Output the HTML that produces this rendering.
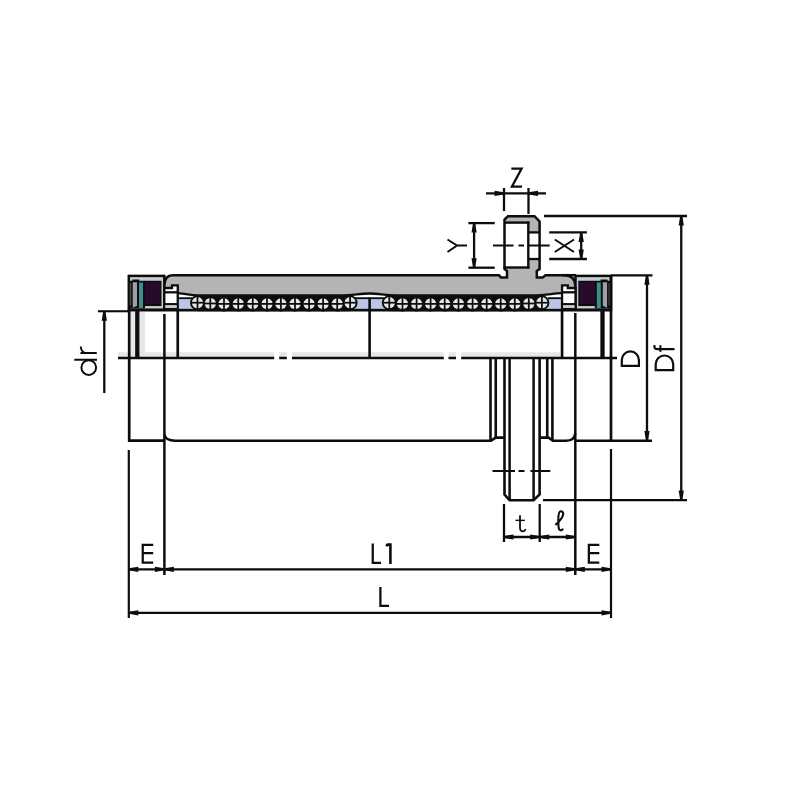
<!DOCTYPE html><html><head><meta charset="utf-8"><style>html,body{margin:0;padding:0;background:#fff;}svg{display:block;}</style></head><body><svg width="800" height="800" viewBox="0 0 800 800">
<rect width="800" height="800" fill="#fff"/>
<path d="M164.3,285 Q164.8,275.2 172.5,275.2 L499,275.2 L501,277.6 L507,277.6 L507,271 L504.5,269 L504.5,219.5 L508,216.2 L534.5,216.2 L539.6,221.5 L539.6,269 L536.8,271 L536.8,277.6 L542.6,277.6 L545.5,275.2 L564.5,275.2 Q575.3,275.5 575.3,286 L575.3,300 L164.3,300 Z" fill="#b4b4b6" stroke="none"/>
<rect x="504.5" y="222.6" width="23.8" height="44.7" fill="#fff"/>
<rect x="528.3" y="232.4" width="11.3" height="26.6" fill="#fff"/>
<path d="M164.3,285 Q164.8,275.2 172.5,275.2 L499,275.2 L501,277.6 L507,277.6 L507,271 L504.5,269 L504.5,219.5 L508,216.2 L534.5,216.2 L539.6,221.5 L539.6,269 L536.8,271 L536.8,277.6 L542.6,277.6 L545.5,275.2 L564.5,275.2 Q575.3,275.5 575.3,286" fill="none" stroke="#0d0d0d" stroke-width="2.5" stroke-linejoin="miter"/>
<line x1="562" y1="275.2" x2="576" y2="275.2" stroke="#0d0d0d" stroke-width="2.5" stroke-linecap="butt"/>
<line x1="504.5" y1="222.6" x2="529.5" y2="222.6" stroke="#0d0d0d" stroke-width="2.4" stroke-linecap="butt"/>
<line x1="528.3" y1="221.5" x2="528.3" y2="268.5" stroke="#0d0d0d" stroke-width="2.4" stroke-linecap="butt"/>
<line x1="503.5" y1="267.5" x2="529.5" y2="267.5" stroke="#0d0d0d" stroke-width="2.4" stroke-linecap="butt"/>
<line x1="528.3" y1="232.4" x2="539.6" y2="232.4" stroke="#0d0d0d" stroke-width="2.3" stroke-linecap="butt"/>
<line x1="528.3" y1="259" x2="539.6" y2="259" stroke="#0d0d0d" stroke-width="2.3" stroke-linecap="butt"/>
<path d="M177.7,293.2 C186,293.6 190,295.3 197,295.4 L340,295.4 C352,295.4 360,293.6 369.6,293.5 C379,293.6 386,295.4 398,295.4 L533,295.4 C545,295.3 553,293.6 561.9,293.2 L561.9,311 L177.7,311 Z" fill="#fff"/>
<rect x="197.5" y="295.6" width="152.6" height="15.6" fill="#0d0d0d"/>
<rect x="389.3" y="295.6" width="152.6" height="15.6" fill="#0d0d0d"/>
<rect x="178.8" y="299.2" width="13.2" height="9.4" fill="#bcc6e4"/>
<line x1="177.7" y1="298.2" x2="192" y2="298.2" stroke="#0d0d0d" stroke-width="1.9" stroke-linecap="butt"/>
<rect x="355" y="299.2" width="29" height="9.4" fill="#bcc6e4"/>
<line x1="355" y1="298.2" x2="384" y2="298.2" stroke="#0d0d0d" stroke-width="1.9" stroke-linecap="butt"/>
<rect x="548" y="299.2" width="13" height="9.4" fill="#bcc6e4"/>
<line x1="548" y1="298.2" x2="562" y2="298.2" stroke="#0d0d0d" stroke-width="1.9" stroke-linecap="butt"/>
<circle cx="197.5" cy="302.7" r="7.5" fill="#0d0d0d"/>
<circle cx="210.3" cy="303.5" r="7.5" fill="#0d0d0d"/>
<circle cx="224" cy="303.9" r="7.5" fill="#0d0d0d"/>
<circle cx="238.25" cy="303.9" r="7.5" fill="#0d0d0d"/>
<circle cx="252.75" cy="303.9" r="7.5" fill="#0d0d0d"/>
<circle cx="267" cy="303.9" r="7.5" fill="#0d0d0d"/>
<circle cx="280.9" cy="303.9" r="7.5" fill="#0d0d0d"/>
<circle cx="295" cy="303.9" r="7.5" fill="#0d0d0d"/>
<circle cx="309.1" cy="303.9" r="7.5" fill="#0d0d0d"/>
<circle cx="323.1" cy="303.9" r="7.5" fill="#0d0d0d"/>
<circle cx="337.2" cy="303.9" r="7.5" fill="#0d0d0d"/>
<circle cx="350.1" cy="302.7" r="7.5" fill="#0d0d0d"/>
<circle cx="389.3" cy="302.7" r="7.5" fill="#0d0d0d"/>
<circle cx="402.5" cy="303.9" r="7.5" fill="#0d0d0d"/>
<circle cx="416.6" cy="303.9" r="7.5" fill="#0d0d0d"/>
<circle cx="430.6" cy="303.9" r="7.5" fill="#0d0d0d"/>
<circle cx="444.7" cy="303.9" r="7.5" fill="#0d0d0d"/>
<circle cx="458.5" cy="303.9" r="7.5" fill="#0d0d0d"/>
<circle cx="472.6" cy="303.9" r="7.5" fill="#0d0d0d"/>
<circle cx="486.7" cy="303.9" r="7.5" fill="#0d0d0d"/>
<circle cx="500.7" cy="303.9" r="7.5" fill="#0d0d0d"/>
<circle cx="514.8" cy="303.9" r="7.5" fill="#0d0d0d"/>
<circle cx="528.8" cy="303.5" r="7.5" fill="#0d0d0d"/>
<circle cx="541.9" cy="302.7" r="7.5" fill="#0d0d0d"/>
<circle cx="197.5" cy="302.7" r="5.6" fill="#e6e6e6"/>
<line x1="191.5" y1="302.7" x2="203.5" y2="302.7" stroke="#0d0d0d" stroke-width="1.75" stroke-linecap="butt"/>
<line x1="197.5" y1="296.7" x2="197.5" y2="308.7" stroke="#0d0d0d" stroke-width="1.75" stroke-linecap="butt"/>
<circle cx="210.3" cy="303.5" r="5.6" fill="#e6e6e6"/>
<line x1="204.3" y1="303.5" x2="216.3" y2="303.5" stroke="#0d0d0d" stroke-width="1.75" stroke-linecap="butt"/>
<line x1="210.3" y1="297.5" x2="210.3" y2="309.5" stroke="#0d0d0d" stroke-width="1.75" stroke-linecap="butt"/>
<circle cx="224" cy="303.9" r="5.6" fill="#e6e6e6"/>
<line x1="218" y1="303.9" x2="230" y2="303.9" stroke="#0d0d0d" stroke-width="1.75" stroke-linecap="butt"/>
<line x1="224" y1="297.9" x2="224" y2="309.9" stroke="#0d0d0d" stroke-width="1.75" stroke-linecap="butt"/>
<circle cx="238.25" cy="303.9" r="5.6" fill="#e6e6e6"/>
<line x1="232.25" y1="303.9" x2="244.25" y2="303.9" stroke="#0d0d0d" stroke-width="1.75" stroke-linecap="butt"/>
<line x1="238.25" y1="297.9" x2="238.25" y2="309.9" stroke="#0d0d0d" stroke-width="1.75" stroke-linecap="butt"/>
<circle cx="252.75" cy="303.9" r="5.6" fill="#e6e6e6"/>
<line x1="246.75" y1="303.9" x2="258.75" y2="303.9" stroke="#0d0d0d" stroke-width="1.75" stroke-linecap="butt"/>
<line x1="252.75" y1="297.9" x2="252.75" y2="309.9" stroke="#0d0d0d" stroke-width="1.75" stroke-linecap="butt"/>
<circle cx="267" cy="303.9" r="5.6" fill="#e6e6e6"/>
<line x1="261" y1="303.9" x2="273" y2="303.9" stroke="#0d0d0d" stroke-width="1.75" stroke-linecap="butt"/>
<line x1="267" y1="297.9" x2="267" y2="309.9" stroke="#0d0d0d" stroke-width="1.75" stroke-linecap="butt"/>
<circle cx="280.9" cy="303.9" r="5.6" fill="#e6e6e6"/>
<line x1="274.9" y1="303.9" x2="286.9" y2="303.9" stroke="#0d0d0d" stroke-width="1.75" stroke-linecap="butt"/>
<line x1="280.9" y1="297.9" x2="280.9" y2="309.9" stroke="#0d0d0d" stroke-width="1.75" stroke-linecap="butt"/>
<circle cx="295" cy="303.9" r="5.6" fill="#e6e6e6"/>
<line x1="289" y1="303.9" x2="301" y2="303.9" stroke="#0d0d0d" stroke-width="1.75" stroke-linecap="butt"/>
<line x1="295" y1="297.9" x2="295" y2="309.9" stroke="#0d0d0d" stroke-width="1.75" stroke-linecap="butt"/>
<circle cx="309.1" cy="303.9" r="5.6" fill="#e6e6e6"/>
<line x1="303.1" y1="303.9" x2="315.1" y2="303.9" stroke="#0d0d0d" stroke-width="1.75" stroke-linecap="butt"/>
<line x1="309.1" y1="297.9" x2="309.1" y2="309.9" stroke="#0d0d0d" stroke-width="1.75" stroke-linecap="butt"/>
<circle cx="323.1" cy="303.9" r="5.6" fill="#e6e6e6"/>
<line x1="317.1" y1="303.9" x2="329.1" y2="303.9" stroke="#0d0d0d" stroke-width="1.75" stroke-linecap="butt"/>
<line x1="323.1" y1="297.9" x2="323.1" y2="309.9" stroke="#0d0d0d" stroke-width="1.75" stroke-linecap="butt"/>
<circle cx="337.2" cy="303.9" r="5.6" fill="#e6e6e6"/>
<line x1="331.2" y1="303.9" x2="343.2" y2="303.9" stroke="#0d0d0d" stroke-width="1.75" stroke-linecap="butt"/>
<line x1="337.2" y1="297.9" x2="337.2" y2="309.9" stroke="#0d0d0d" stroke-width="1.75" stroke-linecap="butt"/>
<circle cx="350.1" cy="302.7" r="5.6" fill="#e6e6e6"/>
<line x1="344.1" y1="302.7" x2="356.1" y2="302.7" stroke="#0d0d0d" stroke-width="1.75" stroke-linecap="butt"/>
<line x1="350.1" y1="296.7" x2="350.1" y2="308.7" stroke="#0d0d0d" stroke-width="1.75" stroke-linecap="butt"/>
<circle cx="389.3" cy="302.7" r="5.6" fill="#e6e6e6"/>
<line x1="383.3" y1="302.7" x2="395.3" y2="302.7" stroke="#0d0d0d" stroke-width="1.75" stroke-linecap="butt"/>
<line x1="389.3" y1="296.7" x2="389.3" y2="308.7" stroke="#0d0d0d" stroke-width="1.75" stroke-linecap="butt"/>
<circle cx="402.5" cy="303.9" r="5.6" fill="#e6e6e6"/>
<line x1="396.5" y1="303.9" x2="408.5" y2="303.9" stroke="#0d0d0d" stroke-width="1.75" stroke-linecap="butt"/>
<line x1="402.5" y1="297.9" x2="402.5" y2="309.9" stroke="#0d0d0d" stroke-width="1.75" stroke-linecap="butt"/>
<circle cx="416.6" cy="303.9" r="5.6" fill="#e6e6e6"/>
<line x1="410.6" y1="303.9" x2="422.6" y2="303.9" stroke="#0d0d0d" stroke-width="1.75" stroke-linecap="butt"/>
<line x1="416.6" y1="297.9" x2="416.6" y2="309.9" stroke="#0d0d0d" stroke-width="1.75" stroke-linecap="butt"/>
<circle cx="430.6" cy="303.9" r="5.6" fill="#e6e6e6"/>
<line x1="424.6" y1="303.9" x2="436.6" y2="303.9" stroke="#0d0d0d" stroke-width="1.75" stroke-linecap="butt"/>
<line x1="430.6" y1="297.9" x2="430.6" y2="309.9" stroke="#0d0d0d" stroke-width="1.75" stroke-linecap="butt"/>
<circle cx="444.7" cy="303.9" r="5.6" fill="#e6e6e6"/>
<line x1="438.7" y1="303.9" x2="450.7" y2="303.9" stroke="#0d0d0d" stroke-width="1.75" stroke-linecap="butt"/>
<line x1="444.7" y1="297.9" x2="444.7" y2="309.9" stroke="#0d0d0d" stroke-width="1.75" stroke-linecap="butt"/>
<circle cx="458.5" cy="303.9" r="5.6" fill="#e6e6e6"/>
<line x1="452.5" y1="303.9" x2="464.5" y2="303.9" stroke="#0d0d0d" stroke-width="1.75" stroke-linecap="butt"/>
<line x1="458.5" y1="297.9" x2="458.5" y2="309.9" stroke="#0d0d0d" stroke-width="1.75" stroke-linecap="butt"/>
<circle cx="472.6" cy="303.9" r="5.6" fill="#e6e6e6"/>
<line x1="466.6" y1="303.9" x2="478.6" y2="303.9" stroke="#0d0d0d" stroke-width="1.75" stroke-linecap="butt"/>
<line x1="472.6" y1="297.9" x2="472.6" y2="309.9" stroke="#0d0d0d" stroke-width="1.75" stroke-linecap="butt"/>
<circle cx="486.7" cy="303.9" r="5.6" fill="#e6e6e6"/>
<line x1="480.7" y1="303.9" x2="492.7" y2="303.9" stroke="#0d0d0d" stroke-width="1.75" stroke-linecap="butt"/>
<line x1="486.7" y1="297.9" x2="486.7" y2="309.9" stroke="#0d0d0d" stroke-width="1.75" stroke-linecap="butt"/>
<circle cx="500.7" cy="303.9" r="5.6" fill="#e6e6e6"/>
<line x1="494.7" y1="303.9" x2="506.7" y2="303.9" stroke="#0d0d0d" stroke-width="1.75" stroke-linecap="butt"/>
<line x1="500.7" y1="297.9" x2="500.7" y2="309.9" stroke="#0d0d0d" stroke-width="1.75" stroke-linecap="butt"/>
<circle cx="514.8" cy="303.9" r="5.6" fill="#e6e6e6"/>
<line x1="508.8" y1="303.9" x2="520.8" y2="303.9" stroke="#0d0d0d" stroke-width="1.75" stroke-linecap="butt"/>
<line x1="514.8" y1="297.9" x2="514.8" y2="309.9" stroke="#0d0d0d" stroke-width="1.75" stroke-linecap="butt"/>
<circle cx="528.8" cy="303.5" r="5.6" fill="#e6e6e6"/>
<line x1="522.8" y1="303.5" x2="534.8" y2="303.5" stroke="#0d0d0d" stroke-width="1.75" stroke-linecap="butt"/>
<line x1="528.8" y1="297.5" x2="528.8" y2="309.5" stroke="#0d0d0d" stroke-width="1.75" stroke-linecap="butt"/>
<circle cx="541.9" cy="302.7" r="5.6" fill="#e6e6e6"/>
<line x1="535.9" y1="302.7" x2="547.9" y2="302.7" stroke="#0d0d0d" stroke-width="1.75" stroke-linecap="butt"/>
<line x1="541.9" y1="296.7" x2="541.9" y2="308.7" stroke="#0d0d0d" stroke-width="1.75" stroke-linecap="butt"/>
<path d="M177.7,293.2 C186,293.6 190,295.3 197,295.4 L340,295.4 C352,295.4 360,293.6 369.6,293.5 C379,293.6 386,295.4 398,295.4 L533,295.4 C545,295.3 553,293.6 561.9,293.2" fill="none" stroke="#0d0d0d" stroke-width="2.3" stroke-linejoin="miter"/>
<line x1="128" y1="310.1" x2="611" y2="310.1" stroke="#0d0d0d" stroke-width="2.6" stroke-linecap="butt"/>
<g><rect x="128.8" y="275.9" width="35.5" height="33.8" fill="#c8ccd6" stroke="#0d0d0d" stroke-width="2.5"/><rect x="129.5" y="280.75" width="32" height="25.3" fill="#0d0d0d"/><rect x="129.5" y="306" width="15.5" height="2.5" fill="#0d0d0d"/><rect x="132.25" y="279.5" width="7" height="2" fill="#0d0d0d"/><rect x="129.6" y="283" width="1.7" height="22.5" fill="#4a4545"/><path d="M132.75,282.3 L137,282.3 L137,305.8 L132.75,307.8 Z" fill="#a0a0a4"/><rect x="139" y="282.5" width="4" height="25.5" fill="#3a8e8c"/><rect x="145" y="282.3" width="15.3" height="21.8" fill="#280a2b"/><path d="M164.3,288 L172,288 L172,285.4 L177.75,285.4 L177.75,309 L164.3,309 Z" fill="#fff" stroke="#0d0d0d" stroke-width="2.3"/><line x1="164.3" y1="292.3" x2="177.75" y2="292.3" stroke="#0d0d0d" stroke-width="2.3"/><line x1="164.3" y1="304.2" x2="177.75" y2="304.2" stroke="#0d0d0d" stroke-width="2.3"/><rect x="165.4" y="305.4" width="11.2" height="2.4" fill="#c8ccd6"/></g>
<g transform="translate(739.8,0) scale(-1,1)"><rect x="128.8" y="275.9" width="35.5" height="33.8" fill="#c8ccd6" stroke="#0d0d0d" stroke-width="2.5"/><rect x="129.5" y="280.75" width="32" height="25.3" fill="#0d0d0d"/><rect x="129.5" y="306" width="15.5" height="2.5" fill="#0d0d0d"/><rect x="132.25" y="279.5" width="7" height="2" fill="#0d0d0d"/><rect x="129.6" y="283" width="1.7" height="22.5" fill="#4a4545"/><path d="M132.75,282.3 L137,282.3 L137,305.8 L132.75,307.8 Z" fill="#a0a0a4"/><rect x="139" y="282.5" width="4" height="25.5" fill="#3a8e8c"/><rect x="145" y="282.3" width="15.3" height="21.8" fill="#280a2b"/><path d="M164.3,288 L172,288 L172,285.4 L177.75,285.4 L177.75,309 L164.3,309 Z" fill="#fff" stroke="#0d0d0d" stroke-width="2.3"/><line x1="164.3" y1="292.3" x2="177.75" y2="292.3" stroke="#0d0d0d" stroke-width="2.3"/><line x1="164.3" y1="304.2" x2="177.75" y2="304.2" stroke="#0d0d0d" stroke-width="2.3"/><rect x="165.4" y="305.4" width="11.2" height="2.4" fill="#c8ccd6"/></g>
<rect x="118" y="352.3" width="156.2" height="4.7" fill="#e5e6e8"/>
<rect x="279.2" y="352.3" width="7.6" height="4.7" fill="#e5e6e8"/>
<rect x="292" y="352.3" width="151.8" height="4.7" fill="#e5e6e8"/>
<rect x="448.5" y="352.3" width="7.5" height="4.7" fill="#e5e6e8"/>
<rect x="461.2" y="352.3" width="98.8" height="4.7" fill="#e5e6e8"/>
<rect x="130.8" y="312" width="3.9" height="45" fill="#e5e6e8"/>
<rect x="139.8" y="312" width="5.1" height="45" fill="#e5e6e8"/>
<line x1="129.2" y1="309" x2="129.2" y2="441.8" stroke="#0d0d0d" stroke-width="2.7" stroke-linecap="butt"/>
<line x1="137.3" y1="309" x2="137.3" y2="358" stroke="#0d0d0d" stroke-width="4.3" stroke-linecap="butt"/>
<line x1="164.4" y1="314" x2="164.4" y2="575" stroke="#0d0d0d" stroke-width="2.5" stroke-linecap="butt"/>
<line x1="177.75" y1="309" x2="177.75" y2="358" stroke="#0d0d0d" stroke-width="2.7" stroke-linecap="butt"/>
<line x1="369.6" y1="297.5" x2="369.6" y2="358" stroke="#0d0d0d" stroke-width="2.6" stroke-linecap="butt"/>
<line x1="562.05" y1="309" x2="562.05" y2="358" stroke="#0d0d0d" stroke-width="2.7" stroke-linecap="butt"/>
<line x1="575.3" y1="313" x2="575.3" y2="575" stroke="#0d0d0d" stroke-width="2.5" stroke-linecap="butt"/>
<line x1="602.5" y1="309" x2="602.5" y2="358" stroke="#0d0d0d" stroke-width="4.3" stroke-linecap="butt"/>
<line x1="611" y1="275" x2="611" y2="441.8" stroke="#0d0d0d" stroke-width="2.7" stroke-linecap="butt"/>
<line x1="611" y1="449" x2="611" y2="618" stroke="#0d0d0d" stroke-width="2.2" stroke-linecap="butt"/>
<line x1="128.8" y1="450" x2="128.8" y2="618" stroke="#0d0d0d" stroke-width="2.2" stroke-linecap="butt"/>
<line x1="118" y1="358" x2="274.2" y2="358" stroke="#0d0d0d" stroke-width="2.5" stroke-linecap="butt"/>
<line x1="279.2" y1="358" x2="286.8" y2="358" stroke="#0d0d0d" stroke-width="2.5" stroke-linecap="butt"/>
<line x1="292" y1="358" x2="443.8" y2="358" stroke="#0d0d0d" stroke-width="2.5" stroke-linecap="butt"/>
<line x1="448.5" y1="358" x2="456" y2="358" stroke="#0d0d0d" stroke-width="2.5" stroke-linecap="butt"/>
<line x1="461.2" y1="358" x2="617" y2="358" stroke="#0d0d0d" stroke-width="2.5" stroke-linecap="butt"/>
<line x1="128" y1="440.6" x2="164.4" y2="440.6" stroke="#0d0d0d" stroke-width="2.6" stroke-linecap="butt"/>
<path d="M164.4,434.8 Q165.8,440.7 175,440.7 L491,440.7 L495.7,437.6 L504.5,437.6" fill="none" stroke="#0d0d0d" stroke-width="2.6" stroke-linejoin="miter"/>
<path d="M539.6,437.6 L548.5,437.6 L553,440.8 L566,440.8 Q574.6,440.6 575.2,433.5" fill="none" stroke="#0d0d0d" stroke-width="2.6" stroke-linejoin="miter"/>
<line x1="575" y1="440.8" x2="652" y2="440.8" stroke="#0d0d0d" stroke-width="2.6" stroke-linecap="butt"/>
<line x1="490.5" y1="358" x2="490.5" y2="440.6" stroke="#0d0d0d" stroke-width="2.6" stroke-linecap="butt"/>
<line x1="495.75" y1="358" x2="495.75" y2="437.6" stroke="#0d0d0d" stroke-width="2.6" stroke-linecap="butt"/>
<line x1="547.25" y1="358" x2="547.25" y2="437.6" stroke="#0d0d0d" stroke-width="2.6" stroke-linecap="butt"/>
<line x1="552.4" y1="358" x2="552.4" y2="440.6" stroke="#0d0d0d" stroke-width="2.6" stroke-linecap="butt"/>
<path d="M504.5,358 L504.5,494.5 L509.6,500.2 L533.6,500.2 L539.6,494.5 L539.6,358" fill="none" stroke="#0d0d0d" stroke-width="2.6" stroke-linejoin="miter"/>
<line x1="509.6" y1="358" x2="509.6" y2="500" stroke="#0d0d0d" stroke-width="2.5" stroke-linecap="butt"/>
<line x1="533.6" y1="358" x2="533.6" y2="500" stroke="#0d0d0d" stroke-width="2.5" stroke-linecap="butt"/>
<line x1="492.5" y1="471" x2="515" y2="471" stroke="#0d0d0d" stroke-width="2.0" stroke-linecap="butt"/>
<line x1="518.5" y1="471" x2="524.5" y2="471" stroke="#0d0d0d" stroke-width="2.0" stroke-linecap="butt"/>
<line x1="530.5" y1="471" x2="550.3" y2="471" stroke="#0d0d0d" stroke-width="2.0" stroke-linecap="butt"/>
<line x1="486" y1="193.4" x2="546" y2="193.4" stroke="#0d0d0d" stroke-width="2.3" stroke-linecap="butt"/>
<polygon points="504,192.35 494.5,190.8 494.5,196 504,194.45" fill="#0d0d0d"/>
<polygon points="528.5,192.35 538,190.8 538,196 528.5,194.45" fill="#0d0d0d"/>
<line x1="504" y1="188" x2="504" y2="211" stroke="#0d0d0d" stroke-width="2.3" stroke-linecap="butt"/>
<line x1="528.5" y1="188" x2="528.5" y2="214" stroke="#0d0d0d" stroke-width="2.3" stroke-linecap="butt"/>
<line x1="468.4" y1="223.1" x2="494.7" y2="223.1" stroke="#0d0d0d" stroke-width="2.3" stroke-linecap="butt"/>
<line x1="468.4" y1="267.7" x2="494.7" y2="267.7" stroke="#0d0d0d" stroke-width="2.3" stroke-linecap="butt"/>
<line x1="474.1" y1="223.1" x2="474.1" y2="267.7" stroke="#0d0d0d" stroke-width="2.3" stroke-linecap="butt"/>
<polygon points="473.05,223.1 471.5,232.6 476.7,232.6 475.15,223.1" fill="#0d0d0d"/>
<polygon points="473.05,267.7 471.5,258.2 476.7,258.2 475.15,267.7" fill="#0d0d0d"/>
<line x1="493" y1="245.5" x2="513.6" y2="245.5" stroke="#0d0d0d" stroke-width="2.0" stroke-linecap="butt"/>
<line x1="518.5" y1="245.5" x2="524" y2="245.5" stroke="#0d0d0d" stroke-width="2.0" stroke-linecap="butt"/>
<line x1="529" y1="245.5" x2="549.7" y2="245.5" stroke="#0d0d0d" stroke-width="2.0" stroke-linecap="butt"/>
<line x1="549.2" y1="232.4" x2="586.9" y2="232.4" stroke="#0d0d0d" stroke-width="2.3" stroke-linecap="butt"/>
<line x1="549.2" y1="259" x2="586.9" y2="259" stroke="#0d0d0d" stroke-width="2.3" stroke-linecap="butt"/>
<line x1="581.2" y1="232.4" x2="581.2" y2="259" stroke="#0d0d0d" stroke-width="2.3" stroke-linecap="butt"/>
<polygon points="580.15,232.4 578.6,241.9 583.8,241.9 582.25,232.4" fill="#0d0d0d"/>
<polygon points="580.15,259 578.6,249.5 583.8,249.5 582.25,259" fill="#0d0d0d"/>
<line x1="544" y1="216" x2="687" y2="216" stroke="#0d0d0d" stroke-width="2.3" stroke-linecap="butt"/>
<line x1="543" y1="500.1" x2="687" y2="500.1" stroke="#0d0d0d" stroke-width="2.3" stroke-linecap="butt"/>
<line x1="681.25" y1="216" x2="681.25" y2="500.1" stroke="#0d0d0d" stroke-width="2.3" stroke-linecap="butt"/>
<polygon points="680.2,216 678.65,225.5 683.85,225.5 682.3,216" fill="#0d0d0d"/>
<polygon points="680.2,500.1 678.65,490.6 683.85,490.6 682.3,500.1" fill="#0d0d0d"/>
<line x1="611" y1="275.3" x2="652.5" y2="275.3" stroke="#0d0d0d" stroke-width="2.3" stroke-linecap="butt"/>
<line x1="647" y1="275.3" x2="647" y2="440.6" stroke="#0d0d0d" stroke-width="2.3" stroke-linecap="butt"/>
<polygon points="645.95,275.3 644.4,284.8 649.6,284.8 648.05,275.3" fill="#0d0d0d"/>
<polygon points="645.95,440.6 644.4,431.1 649.6,431.1 648.05,440.6" fill="#0d0d0d"/>
<line x1="97.9" y1="311.25" x2="129" y2="311.25" stroke="#0d0d0d" stroke-width="2.1" stroke-linecap="butt"/>
<line x1="104.3" y1="311.25" x2="104.3" y2="393" stroke="#0d0d0d" stroke-width="2.3" stroke-linecap="butt"/>
<polygon points="103.25,311.25 101.7,320.75 106.9,320.75 105.35,311.25" fill="#0d0d0d"/>
<line x1="504" y1="504" x2="504" y2="542" stroke="#0d0d0d" stroke-width="2.3" stroke-linecap="butt"/>
<line x1="539.7" y1="504" x2="539.7" y2="542" stroke="#0d0d0d" stroke-width="2.3" stroke-linecap="butt"/>
<line x1="504" y1="537" x2="575.3" y2="537" stroke="#0d0d0d" stroke-width="2.3" stroke-linecap="butt"/>
<polygon points="504,535.95 513.5,534.4 513.5,539.6 504,538.05" fill="#0d0d0d"/>
<polygon points="539.7,535.95 530.2,534.4 530.2,539.6 539.7,538.05" fill="#0d0d0d"/>
<polygon points="539.7,535.95 549.2,534.4 549.2,539.6 539.7,538.05" fill="#0d0d0d"/>
<polygon points="575.3,535.95 565.8,534.4 565.8,539.6 575.3,538.05" fill="#0d0d0d"/>
<line x1="128.8" y1="569.3" x2="611" y2="569.3" stroke="#0d0d0d" stroke-width="2.3" stroke-linecap="butt"/>
<polygon points="128.8,568.25 138.3,566.7 138.3,571.9 128.8,570.35" fill="#0d0d0d"/>
<polygon points="164.4,568.25 154.9,566.7 154.9,571.9 164.4,570.35" fill="#0d0d0d"/>
<polygon points="164.4,568.25 173.9,566.7 173.9,571.9 164.4,570.35" fill="#0d0d0d"/>
<polygon points="575.3,568.25 565.8,566.7 565.8,571.9 575.3,570.35" fill="#0d0d0d"/>
<polygon points="575.3,568.25 584.8,566.7 584.8,571.9 575.3,570.35" fill="#0d0d0d"/>
<polygon points="611,568.25 601.5,566.7 601.5,571.9 611,570.35" fill="#0d0d0d"/>
<line x1="128.8" y1="612.8" x2="611" y2="612.8" stroke="#0d0d0d" stroke-width="2.3" stroke-linecap="butt"/>
<polygon points="128.8,611.75 138.3,610.2 138.3,615.4 128.8,613.85" fill="#0d0d0d"/>
<polygon points="611,611.75 601.5,610.2 601.5,615.4 611,613.85" fill="#0d0d0d"/>
<path d="M511.35,168.65 L521.6,168.65 L511.9,186.65 L522,186.65" fill="none" stroke="#0d0d0d" stroke-width="2.25" stroke-linecap="butt" stroke-linejoin="miter"/>
<path d="M447.5,239.5 L457,245.5 L447.5,252 M457,245.5 L467,245.5" fill="none" stroke="#0d0d0d" stroke-width="2.0" stroke-linecap="butt" stroke-linejoin="miter"/>
<path d="M554.8,239.5 L574,252 M554.8,252 L574,239.5" fill="none" stroke="#0d0d0d" stroke-width="2.0" stroke-linecap="butt" stroke-linejoin="miter"/>
<path d="M621.8,365.85 L621.8,359.95 A8.55,8.55 0 0 1 638.9,359.95 L638.9,365.85 Z" fill="none" stroke="#0d0d0d" stroke-width="2.2" stroke-linecap="butt" stroke-linejoin="miter"/>
<path d="M655.7,370.2 L655.7,364.25 A8.75,8.75 0 0 1 673.2,364.25 L673.2,370.2 Z" fill="none" stroke="#0d0d0d" stroke-width="2.2" stroke-linecap="butt" stroke-linejoin="miter"/>
<path d="M674.5,349.1 L657.2,349.1 Q654.4,349.1 654.4,346.2 L654.4,345" fill="none" stroke="#0d0d0d" stroke-width="2.1" stroke-linecap="butt" stroke-linejoin="miter"/>
<path d="M660.4,345.25 L660.4,351.8" fill="none" stroke="#0d0d0d" stroke-width="2.1" stroke-linecap="butt" stroke-linejoin="miter"/>
<path d="M74.3,359.75 L97,359.75" fill="none" stroke="#0d0d0d" stroke-width="2.0" stroke-linecap="butt" stroke-linejoin="miter"/>
<circle cx="88.75" cy="367.6" r="7.35" fill="none" stroke="#0d0d0d" stroke-width="2.0"/>
<path d="M96.8,353.1 L80.5,353.1 M85.5,353.1 Q81,351.8 80.8,346.5" fill="none" stroke="#0d0d0d" stroke-width="2.0" stroke-linecap="butt" stroke-linejoin="miter"/>
<path d="M153.2,544.75 L142.75,544.75 L142.75,562.5 L153.2,562.5 M142.75,553 L153.2,553" fill="none" stroke="#0d0d0d" stroke-width="2.25" stroke-linecap="butt" stroke-linejoin="miter"/>
<path d="M599.3,544.75 L588.85,544.75 L588.85,562.5 L599.3,562.5 M588.85,553 L599.3,553" fill="none" stroke="#0d0d0d" stroke-width="2.25" stroke-linecap="butt" stroke-linejoin="miter"/>
<path d="M372.75,543.6 L372.75,562.75 L381,562.75" fill="none" stroke="#0d0d0d" stroke-width="2.25" stroke-linecap="butt" stroke-linejoin="miter"/>
<path d="M386.2,546.2 L387.6,544.6 L390.4,544.6 L390.4,563.9" fill="none" stroke="#0d0d0d" stroke-width="2.6" stroke-linecap="butt" stroke-linejoin="miter"/>
<path d="M380.4,587.1 L380.4,605.9 L389,605.9" fill="none" stroke="#0d0d0d" stroke-width="2.25" stroke-linecap="butt" stroke-linejoin="miter"/>
<path d="M520,515.3 L520,527.5 Q520,531.3 523,531.3 Q524.8,531.3 525.7,529.2" fill="none" stroke="#0d0d0d" stroke-width="1.8" stroke-linecap="butt" stroke-linejoin="miter"/>
<path d="M515.45,520.35 L524.9,520.35" fill="none" stroke="#0d0d0d" stroke-width="1.4" stroke-linecap="butt" stroke-linejoin="miter"/>
<path d="M555.4,525 Q563.2,518 563.2,514 Q563.2,511.2 560.8,511.2 Q558.3,511.2 558.3,520 L558.5,526.5 Q558.8,530.4 561,530.4 Q562.3,530.4 563,528.6" fill="none" stroke="#0d0d0d" stroke-width="2.1" stroke-linecap="butt" stroke-linejoin="miter"/>
</svg></body></html>
